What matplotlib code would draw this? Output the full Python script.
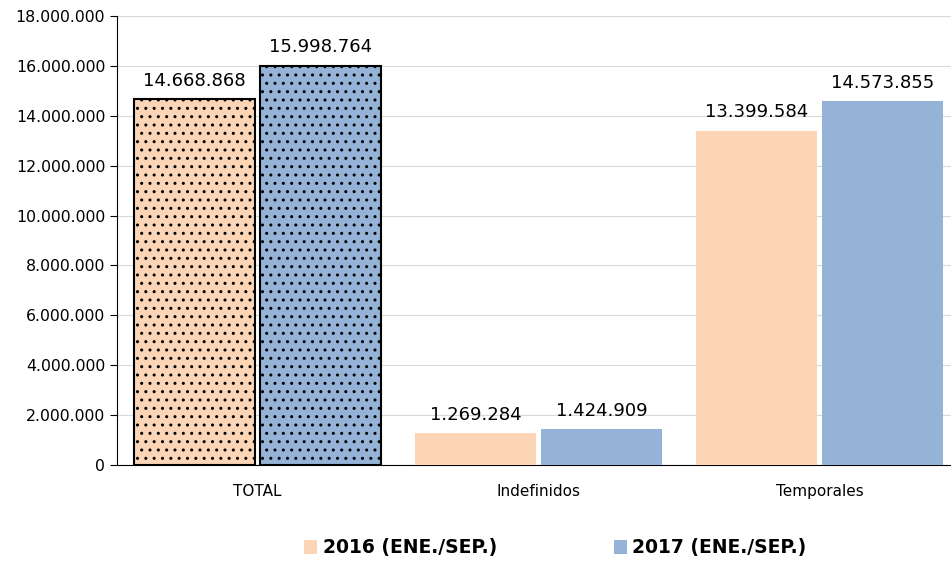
import matplotlib
matplotlib.use("Agg")
import matplotlib.pyplot as plt
from matplotlib.ticker import FuncFormatter
from matplotlib.patches import Patch
import numpy as np

categories = ["TOTAL", "Indefinidos", "Temporales"]
series_names = ["2016 (ENE./SEP.)", "2017 (ENE./SEP.)"]
values_2016 = [14668868, 1269284, 13399584]
values_2017 = [15998764, 1424909, 14573855]
colors = ["#FBD5B5", "#95B3D7"]

plt.rcParams['font.family'] = ['DejaVu Sans']
plt.rcParams['hatch.linewidth'] = 1.0

fig = plt.figure(figsize=(9.51, 5.64), dpi=100)
ax = fig.add_axes([117/951, (564-465)/564, 843/951, 449/564])

x = np.arange(len(categories))
w = 0.428
off = 0.224

def fmt(v):
    return f"{v:,.0f}".replace(",", ".")

for i, (vals, col) in enumerate(zip([values_2016, values_2017], colors)):
    pos = x + (-off if i == 0 else off)
    for j, (p, v) in enumerate(zip(pos, vals)):
        if j == 0:
            ax.bar(p, v, w, color=col, edgecolor="black", linewidth=1.5, hatch="..", zorder=3)
        else:
            ax.bar(p, v, w, color=col, edgecolor="none", zorder=3)
        ax.text(p, v + 380000, fmt(v), ha="center", va="bottom", fontsize=13, color="black")

ax.set_xlim(-0.5, 2.5)
ax.set_ylim(0, 18000000)
ax.set_yticks(np.arange(0, 18000001, 2000000))
ax.yaxis.set_major_formatter(FuncFormatter(lambda v, p: fmt(v)))
ax.set_xticks(x)
ax.set_xticklabels(categories)
ax.tick_params(axis="y", labelsize=11.3, length=5, color="black")
ax.tick_params(axis="x", labelsize=11, length=0, pad=14)
ax.grid(axis="y", color="#D9D9D9", linewidth=0.8, zorder=0)
ax.set_axisbelow(True)
for s in ["top", "right"]:
    ax.spines[s].set_visible(False)
ax.spines["left"].set_color("black")
ax.spines["bottom"].set_color("black")

handles = [Patch(facecolor=c, edgecolor="none") for c in colors]
fig.legend(handles, series_names, loc="center", bbox_to_anchor=(0.584, 1 - 548/564), ncol=2,
           frameon=False, prop={"weight": "bold", "size": 13.5}, handlelength=0.7, handleheight=0.7,
           handletextpad=0.3, columnspacing=6.2)

fig.savefig("out.png", dpi=100)
